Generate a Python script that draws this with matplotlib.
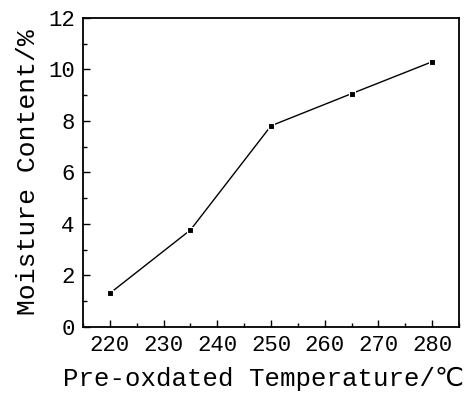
import matplotlib
matplotlib.use("Agg")
import matplotlib.pyplot as plt
from matplotlib.ticker import MultipleLocator

temperature = [220, 235, 250, 265, 280]
moisture = [1.30, 3.76, 7.81, 9.06, 10.30]
x_ticks = [220, 230, 240, 250, 260, 270, 280]
y_ticks = [0, 2, 4, 6, 8, 10, 12]

plt.rcParams['font.family'] = ['Liberation Mono', 'DejaVu Sans', 'Noto Sans CJK SC']

fig = plt.figure(figsize=(4.68, 3.95), dpi=100)
ax = fig.add_axes([0.1774, 0.1729, 0.8034, 0.7815])

ax.plot(temperature, moisture, color='black', linewidth=1.0, marker='s',
        markersize=5, markerfacecolor='black', markeredgecolor='white',
        markeredgewidth=0.8)

ax.set_xlim(215, 285)
ax.set_ylim(0, 12)
ax.set_xticks(x_ticks)
ax.set_yticks(y_ticks)
ax.xaxis.set_minor_locator(MultipleLocator(5))
ax.yaxis.set_minor_locator(MultipleLocator(1))
ax.tick_params(axis='both', which='major', direction='in', length=5, width=1,
               labelsize=16, pad=6, top=False, right=False)
ax.tick_params(axis='both', which='minor', direction='in', length=3, width=1,
               top=False, right=False)
for s in ax.spines.values():
    s.set_linewidth(1.3)

xl = ax.set_xlabel('Pre-oxdated Temperature/℃', fontsize=18.5, labelpad=8)
xl.set_x(0.48)
ax.set_ylabel('Moisture Content/%', fontsize=19, labelpad=6)

fig.savefig('out.png', dpi=100)
